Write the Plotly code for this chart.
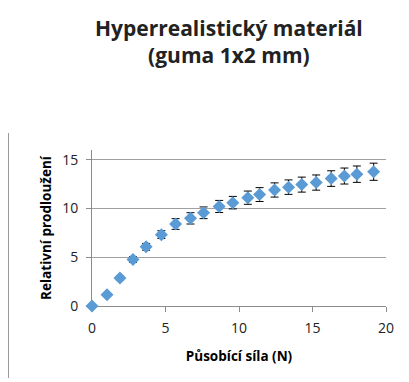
import plotly.graph_objects as go

# Applied force (N) and relative elongation, with measurement uncertainty
force = [0.0, 1.02, 1.90, 2.79, 3.68, 4.72, 5.69, 6.70, 7.59, 8.65, 9.58,
         10.60, 11.40, 12.42, 13.37, 14.27, 15.25, 16.27, 17.17, 18.02, 19.16]
elongation = [0.0, 1.15, 2.86, 4.77, 6.07, 7.32, 8.41, 8.99, 9.56, 10.21, 10.60,
              11.11, 11.43, 11.90, 12.19, 12.45, 12.66, 13.07, 13.33, 13.52, 13.77]
elong_err = [0.0, 0.1, 0.2, 0.3, 0.35, 0.4, 0.55, 0.58, 0.6, 0.62, 0.64,
             0.68, 0.71, 0.73, 0.74, 0.77, 0.78, 0.8, 0.82, 0.84, 0.88]

x_ticks = [0, 5, 10, 15, 20]
y_ticks = [0, 5, 10, 15]

FONT = "Open Sans"
AXIS_GREY = "#8c8c8c"

fig = go.Figure()
fig.add_trace(go.Scatter(
    x=force,
    y=elongation,
    mode="markers",
    cliponaxis=False,
    marker=dict(symbol="diamond", size=10, color="#5B9BD5", line=dict(width=0)),
    error_y=dict(type="data", array=elong_err, visible=True,
                 color="#000000", thickness=1, width=4),
    showlegend=False,
))

fig.update_layout(
    width=409,
    height=382,
    margin=dict(l=92, r=23, t=150, b=76),
    paper_bgcolor="white",
    plot_bgcolor="white",
    font=dict(family=FONT, color="#333333"),
    xaxis=dict(
        range=[0, 20],
        tickvals=x_ticks,
        ticks="outside",
        ticklen=5,
        tickcolor=AXIS_GREY,
        ticklabelstandoff=4,
        showgrid=False,
        showline=True,
        linecolor=AXIS_GREY,
        linewidth=1,
        zeroline=False,
        layer="below traces",
        tickfont=dict(size=14, family=FONT, color="#222222"),
        title=dict(text="<b>Působící síla (N)</b>",
                   font=dict(size=13.5, family=FONT, color="#000000"),
                   standoff=15),
    ),
    yaxis=dict(
        range=[0, 16],
        tickvals=y_ticks,
        ticks="outside",
        ticklen=5,
        tickcolor=AXIS_GREY,
        ticklabelstandoff=5,
        showgrid=True,
        gridcolor="#a0a0a0",
        gridwidth=1,
        showline=True,
        linecolor=AXIS_GREY,
        linewidth=1,
        zeroline=False,
        layer="below traces",
        tickfont=dict(size=14, family=FONT, color="#222222"),
        title=dict(text="<b>Relativní prodloužení</b>",
                   font=dict(size=13.5, family=FONT, color="#000000"),
                   standoff=7),
    ),
    annotations=[
        dict(
            text="<b>Hyperrealistický materiál<br>(guma 1x2 mm)</b>",
            xref="paper", yref="paper",
            x=(229 - 92) / 294, y=(306 - 41) / 156,
            xanchor="center", yanchor="middle",
            showarrow=False,
            align="center",
            font=dict(size=21, family=FONT, color="#222222"),
        )
    ],
    shapes=[
        # left border line of the chart frame
        dict(type="line", xref="paper", yref="paper",
             x0=(8.5 - 92) / 294, x1=(8.5 - 92) / 294,
             y0=(306 - 378) / 156, y1=(306 - 133) / 156,
             line=dict(color="#9a9a9a", width=1)),
    ],
)

fig.write_html("out.html")
